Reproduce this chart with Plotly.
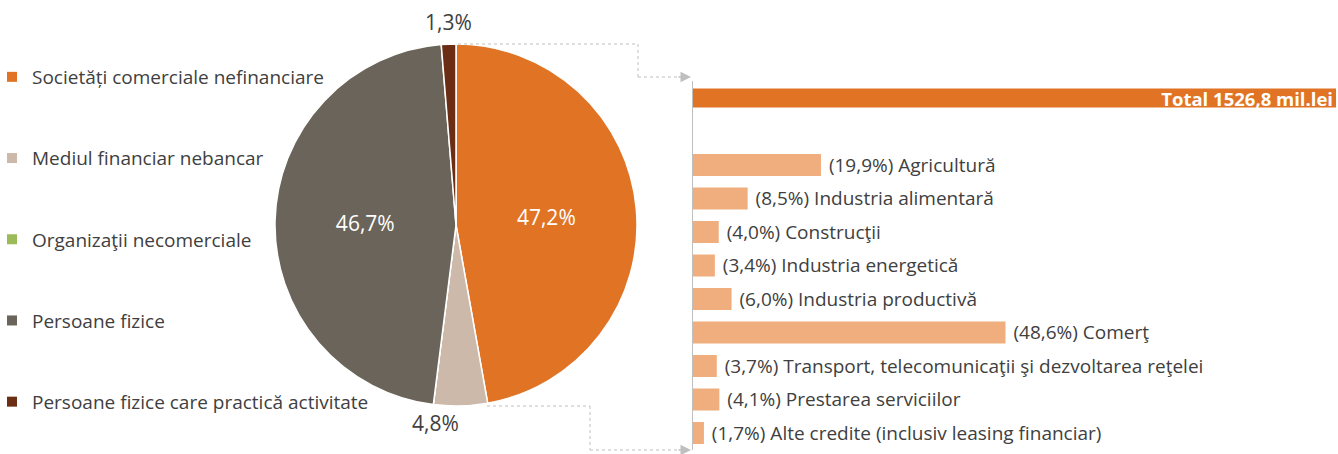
import math
import plotly.graph_objects as go

# ---- data ----
pie_labels = ["Societăți comerciale nefinanciare", "Mediul financiar nebancar",
              "Organizaţii necomerciale", "Persoane fizice",
              "Persoane fizice care practică activitate"]
pie_values = [47.2, 4.8, 0.0, 46.7, 1.3]
pie_colors = ["#E07324", "#CDB9AA", "#9BBB59", "#6A645A", "#6B2E14"]

total_label = "Total"
total_amount = "1526,8 mil.lei"
total_share = 100.0
sectors = ["Agricultură", "Industria alimentară", "Construcţii", "Industria energetică",
           "Industria productivă", "Comerţ",
           "Transport, telecomunicaţii şi dezvoltarea reţelei",
           "Prestarea serviciilor", "Alte credite (inclusiv leasing financiar)"]
sector_shares = [19.9, 8.5, 4.0, 3.4, 6.0, 48.6, 3.7, 4.1, 1.7]

W, H = 1338, 454
FONT = "Open Sans"
TXT = "#404040"
FS = 19
PFS = 21


def fmt(v):
    return f"{v:.1f}".replace(".", ",")


def px(x):
    return x / W


def py(y):
    return 1 - y / H


fig = go.Figure()

# ---- pie ----
pie_text = [fmt(v) + "%" if v > 0 else "" for v in pie_values]
big = [v > 10 for v in pie_values]
cx, cy, r = 456, 225, 181
fig.add_trace(go.Pie(
    labels=pie_labels, values=pie_values, sort=False, direction="clockwise",
    rotation=0, text=[t if b else "" for t, b in zip(pie_text, big)], textinfo="text",
    textposition="inside", insidetextorientation="horizontal",
    marker=dict(colors=pie_colors, line=dict(color="white", width=1.5)),
    insidetextfont=dict(color="white", size=PFS, family=FONT),
    domain=dict(x=[px(cx - r), px(cx + r)], y=[py(cy + r), py(cy - r)]),
    showlegend=False, hoverinfo="label+percent",
))

# labels of the small slices, placed outside at the slice's mid angle
tot = sum(pie_values)
cum = 0.0
for v, t, b in zip(pie_values, pie_text, big):
    mid = (cum + v / 2) / tot * 2 * math.pi
    cum += v
    if b or not t:
        continue
    sx, cyy = math.sin(mid), math.cos(mid)
    if cyy > 0:  # top
        fig.add_annotation(xref="paper", yref="paper", x=px(cx + (r + 6) * sx),
                           y=py(cy - (r + 6) * cyy), text=t, showarrow=False,
                           xanchor="center", yanchor="bottom",
                           font=dict(size=PFS, family=FONT, color=TXT))
    else:
        fig.add_annotation(xref="paper", yref="paper", x=px(cx + (r + 4) * sx),
                           y=py(cy - (r + 1) * cyy), text=t, showarrow=False,
                           xanchor="right", yanchor="top",
                           font=dict(size=PFS, family=FONT, color=TXT))

# ---- bars ----
cats = [total_label, " "] + sectors
vals = [total_share, None] + sector_shares
texts = [f"<b>{total_label} {total_amount}</b>", ""] + [f" ({fmt(v)}%) {n}" for n, v in zip(sectors, sector_shares)]
colors = ["#E07324", "#F0AD7E"] + ["#F0AD7E"] * len(sectors)
widths = [0.57, 0.66] + [0.66] * len(sectors)
tpos = ["inside", "none"] + ["outside"] * len(sectors)
fig.add_trace(go.Bar(
    y=cats, x=vals, orientation="h", text=texts, textposition=tpos,
    width=widths, marker=dict(color=colors, line=dict(width=0)),
    insidetextanchor="end", constraintext="none", cliponaxis=False,
    insidetextfont=dict(color="white", size=18.5, family=FONT),
    outsidetextfont=dict(color=TXT, size=FS, family=FONT),
    showlegend=False, hoverinfo="x+y",
))

# ---- legend (dummy traces) ----
for lab, col in zip(pie_labels, pie_colors):
    fig.add_trace(go.Scatter(x=[None], y=[None], mode="markers", name=lab,
                             legendgroup=lab,
                             marker=dict(symbol="square", size=10, color=col)))

ytop, ybot = 81.25, 449.75
fig.update_layout(
    width=W, height=H, margin=dict(l=0, r=0, t=0, b=0, autoexpand=False),
    paper_bgcolor="white", plot_bgcolor="white",
    font=dict(family=FONT, color=TXT, size=FS),
    xaxis=dict(domain=[px(693), px(1336)], range=[0, 100], visible=False, fixedrange=True),
    yaxis=dict(domain=[py(ybot), py(ytop)], type="category",
               categoryorder="array", categoryarray=cats, range=[len(cats) - 0.5, -0.5],
               showticklabels=False, showgrid=False, zeroline=False, fixedrange=True,
               showline=True, linecolor="#BFBFBF", linewidth=1, ticks=""),
    legend=dict(x=px(-8), y=py(58), xanchor="left", yanchor="top",
                tracegroupgap=53.5, font=dict(size=FS, family=FONT, color=TXT),
                bgcolor="rgba(0,0,0,0)", itemclick=False),
    bargap=0.3,
)

# ---- connector lines ----
lc = dict(color="#BFBFBF", width=1, dash="dot")
segs = [((458, 44), (638, 44)), ((638, 44), (638, 77)), ((638, 77), (680, 77)),
        ((487, 406), (590, 406)), ((590, 406), (590, 450)), ((590, 450), (680, 450))]
for (x0, y0), (x1, y1) in segs:
    fig.add_shape(type="line", xref="paper", yref="paper",
                  x0=px(x0), y0=py(y0), x1=px(x1), y1=py(y1), line=lc)
for yy in (77, 450):
    fig.add_annotation(xref="paper", yref="paper", x=px(691), y=py(yy), ax=-14, ay=0,
                       text="", showarrow=True, arrowhead=2, arrowsize=1.4,
                       arrowwidth=1.5, arrowcolor="#BFBFBF")

fig.write_html("out.html", config={"displayModeBar": False},
               post_script="document.body.style.margin='0';document.body.style.overflow='hidden';")
